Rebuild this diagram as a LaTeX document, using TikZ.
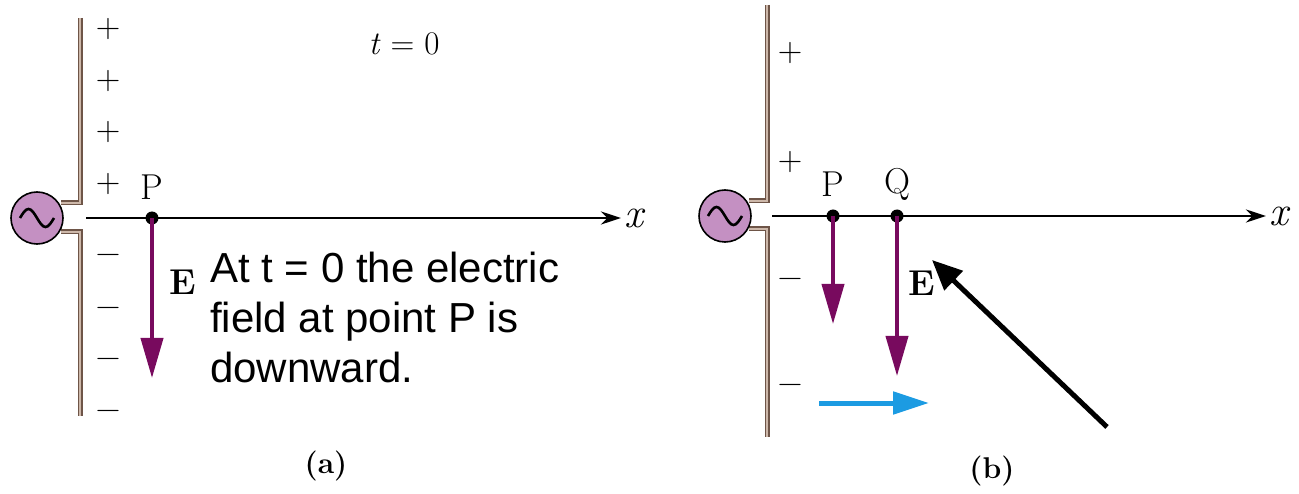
\documentclass[tikz,border=0pt]{standalone}
\usepackage{fontspec}
\newfontfamily\arialfont{Liberation Sans}
\usetikzlibrary{arrows.meta}
\definecolor{rodout}{HTML}{6E5548}
\definecolor{rodin}{HTML}{CDB8AA}
\definecolor{srcfill}{HTML}{C490C2}
\definecolor{efield}{HTML}{780A5E}
\definecolor{propcol}{HTML}{1C9BE2}
\tikzset{
  rodA/.style={draw=rodout,line width=5pt,miter limit=10},
  rodB/.style={draw=rodin,line width=1.6pt},
  source/.style={circle,draw=black,line width=1.6pt,fill=srcfill,minimum size=52pt,inner sep=0pt},
  sinewave/.style={draw=black,line width=2.6pt},
  ptdot/.style={circle,fill=black,minimum size=13pt,inner sep=0pt},
  axisline/.style={draw=black,line width=2.8pt,-{Stealth[length=20pt,width=13pt]}},
  efarrow/.style={draw=efield,line width=4pt,-{Triangle[length=40pt,width=22pt]}},
  proparrow/.style={draw=propcol,line width=5pt,-{Triangle[length=36pt,width=22pt]}},
  pointer/.style={draw=black,line width=5pt,-{Triangle[length=30pt,width=26pt]}},
  chg/.style={font=\fontsize{34}{34}\selectfont,inner sep=0pt},
  lbl/.style={font=\fontsize{36}{36}\selectfont,inner sep=0pt},
  axlbl/.style={font=\itshape\fontsize{42}{42}\selectfont,inner sep=0pt},
  elbl/.style={font=\bfseries\fontsize{36}{36}\selectfont,inner sep=0pt},
  note/.style={font=\arialfont\fontsize{42}{50}\selectfont,anchor=base west,inner sep=0pt},
  captext/.style={font=\bfseries\fontsize{30}{30}\selectfont,inner sep=0pt}
}
\begin{document}
\begin{tikzpicture}[x=1pt,y=-1pt]
\useasboundingbox (0,0) rectangle (1299,494);
% ---------------- panel (a) ----------------
\draw[rodA] (80,18) -- (80,203) -- (61,203);
\draw[rodB] (80,18) -- (80,203) -- (61,203);
\draw[rodA] (61,232) -- (80,232) -- (80,416);
\draw[rodB] (61,232) -- (80,232) -- (80,416);
\node[source] (srcA) at (37,218) {};
\draw[sinewave] ([xshift=-17pt]srcA.center) sin ([xshift=-8.5pt,yshift=9pt]srcA.center) cos (srcA.center) sin ([xshift=8.5pt,yshift=-9pt]srcA.center) cos ([xshift=17pt]srcA.center);
\coordinate (axAstart) at (86,218);
\coordinate (axAend) at (621,218);
\draw[axisline] (axAstart) -- (axAend);
\node[axlbl] (xA) at (634,218) {x};
\foreach \yy/\nm in {29/pa1,81/pa2,132/pa3,184/pa4} \node[chg] (\nm) at (108,\yy) {+};
\foreach \yy/\nm in {259/ma1,312/ma2,363/ma3,415/ma4} \node[chg] (\nm) at (108,\yy) {−};
\node[ptdot] (PA) at (152,218) {};
\node[lbl] (PAl) at (152,187) {P};
\coordinate (EAtip) at (152,378);
\draw[efarrow] (PA.center) -- (EAtip);
\node[elbl] (EAl) at (183,282) {E};
\node[lbl,font=\fontsize{33}{33}\selectfont] (t0) at (404,44) {\textit{t} = 0};
\node[note] (n1) at (210,283) {At t = 0 the electric};
\node[note] (n2) at (210,333) {field at point P is};
\node[note] (n3) at (210,383) {downward.};
\node[captext] (capA) at (326,466) {(a)};
% ---------------- panel (b) ----------------
\draw[rodA] (767,5) -- (767,201) -- (749,201);
\draw[rodB] (767,5) -- (767,201) -- (749,201);
\draw[rodA] (749,229) -- (767,229) -- (767,437);
\draw[rodB] (749,229) -- (767,229) -- (767,437);
\node[source] (srcB) at (725,216) {};
\draw[sinewave] ([xshift=-17pt]srcB.center) sin ([xshift=-8.5pt,yshift=9pt]srcB.center) cos (srcB.center) sin ([xshift=8.5pt,yshift=-9pt]srcB.center) cos ([xshift=17pt]srcB.center);
\coordinate (axBstart) at (772,216);
\coordinate (axBend) at (1266,216);
\draw[axisline] (axBstart) -- (axBend);
\node[axlbl] (xB) at (1279,216) {x};
\node[chg] (pb1) at (790,53) {+};
\node[chg] (pb2) at (790,162) {+};
\node[chg] (mb1) at (790,283) {−};
\node[chg] (mb2) at (790,389) {−};
\node[ptdot] (PB) at (833,216) {};
\node[ptdot] (QB) at (897,216) {};
\node[lbl] (PBl) at (833,184) {P};
\node[lbl] (QBl) at (897,184) {Q};
\coordinate (EPtip) at (833,324);
\coordinate (EQtip) at (897,376);
\draw[efarrow] (PB.center) -- (EPtip);
\draw[efarrow] (QB.center) -- (EQtip);
\node[elbl] (EBl) at (922,283) {E};
\coordinate (propstart) at (819,403);
\coordinate (propend) at (929,403);
\draw[proparrow] (propstart) -- (propend);
\coordinate (ptrtail) at (1107,427);
\coordinate (ptrtip) at (932,260);
\draw[pointer] (ptrtail) -- (ptrtip);
\node[captext] (capB) at (992,471) {(b)};
\end{tikzpicture}
\end{document}
